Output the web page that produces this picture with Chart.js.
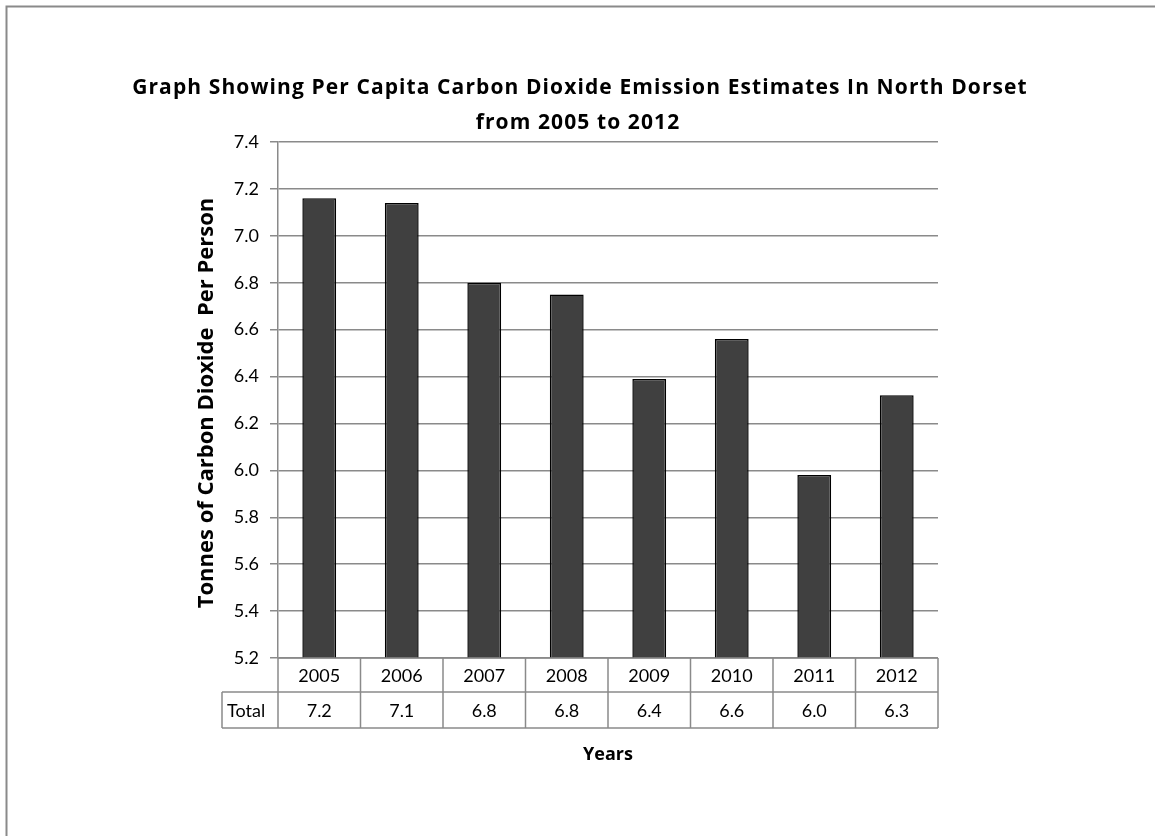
<!DOCTYPE html>
<html>
<head>
<meta charset="utf-8">
<title>Per Capita CO2 Emission Estimates - North Dorset</title>
<script src="https://cdn.jsdelivr.net/npm/chart.js@4.4.1/dist/chart.umd.min.js"></script>
<style>
  html, body { margin: 0; padding: 0; background: #ffffff; }
  canvas { display: block; }
</style>
</head>
<body>
<canvas id="chart" width="1155" height="836"></canvas>
<script>
// Per capita CO2 emission estimates (tonnes per person), North Dorset
const years = ['2005', '2006', '2007', '2008', '2009', '2010', '2011', '2012'];
const emissions = [7.16, 7.14, 6.80, 6.75, 6.39, 6.56, 5.98, 6.32];
const tableRowLabel = 'Total';
const titleLines = [
  'Graph Showing Per Capita Carbon Dioxide Emission Estimates In North Dorset',
  'from 2005 to 2012'
];
const yAxisTitle = 'Tonnes of Carbon Dioxide  Per Person';
const xAxisTitle = 'Years';
const yMin = 5.2, yMax = 7.4, yStep = 0.2;

const FONT = 'Lato, "Open Sans", sans-serif';
const BOLD_FONT = '"Open Sans", Lato, sans-serif';
const LINE_GREY = '#8a8a8a';

// Frame, titles and the data table under the bars
const decorations = {
  id: 'decorations',
  afterDraw(chart) {
    const ctx = chart.ctx;
    const area = chart.chartArea;
    const xs = chart.scales.x;
    ctx.save();

    // outer frame
    ctx.strokeStyle = LINE_GREY;
    ctx.lineWidth = 2;
    ctx.beginPath();
    ctx.moveTo(6.5, chart.height + 2);
    ctx.lineTo(6.5, 6.5);
    ctx.lineTo(chart.width + 2, 6.5);
    ctx.stroke();

    // chart title
    ctx.fillStyle = '#000';
    ctx.textAlign = 'center';
    ctx.textBaseline = 'middle';
    ctx.font = 'bold 21px ' + BOLD_FONT;
    ctx.letterSpacing = '1.1px';
    ctx.fillText(titleLines[0], 580, 88);
    ctx.fillText(titleLines[1], 578, 123);
    ctx.letterSpacing = '0px';

    // y axis title
    ctx.save();
    ctx.translate(207, (area.top + area.bottom) / 2 + 3);
    ctx.rotate(-Math.PI / 2);
    ctx.font = 'bold 22px ' + BOLD_FONT;
    ctx.fillText(yAxisTitle, 0, 0);
    ctx.restore();

    // data table
    const colW = xs.getPixelForValue(1) - xs.getPixelForValue(0);
    const left = xs.getPixelForValue(0) - colW / 2;
    const right = left + colW * years.length;
    const rowTop = area.bottom;
    const rowMid = rowTop + 34;
    const rowBot = rowMid + 36;
    const labelLeft = 222;

    ctx.strokeStyle = LINE_GREY;
    ctx.lineWidth = 1.5;
    ctx.beginPath();
    ctx.moveTo(left, rowTop); ctx.lineTo(right, rowTop);
    ctx.moveTo(labelLeft, rowMid); ctx.lineTo(right, rowMid);
    ctx.moveTo(labelLeft, rowBot); ctx.lineTo(right, rowBot);
    ctx.moveTo(labelLeft, rowMid); ctx.lineTo(labelLeft, rowBot);
    for (let i = 0; i <= years.length; i++) {
      const x = left + i * colW;
      ctx.moveTo(x, rowTop); ctx.lineTo(x, rowBot);
    }
    ctx.stroke();

    ctx.font = '18px ' + FONT;
    ctx.fillStyle = '#000';
    ctx.textAlign = 'center';
    years.forEach((yr, i) => {
      const cx = xs.getPixelForValue(i);
      ctx.fillText(yr, cx, (rowTop + rowMid) / 2 + 1);
      ctx.fillText(emissions[i].toFixed(1), cx, (rowMid + rowBot) / 2 + 1);
    });
    ctx.textAlign = 'left';
    ctx.fillText(tableRowLabel, labelLeft + 5, (rowMid + rowBot) / 2 + 1);

    // x axis title
    ctx.font = 'bold 18px ' + BOLD_FONT;
    ctx.textAlign = 'center';
    ctx.fillText(xAxisTitle, (area.left + area.right) / 2, 755);

    ctx.restore();
  }
};

new Chart(document.getElementById('chart'), {
  type: 'bar',
  data: {
    labels: years,
    datasets: [{
      label: tableRowLabel,
      data: emissions,
      backgroundColor: '#404040',
      borderColor: '#000000',
      borderWidth: 1.5,
      barPercentage: 0.41,
      categoryPercentage: 1.0
    }]
  },
  options: {
    responsive: false,
    devicePixelRatio: 1,
    animation: false,
    layout: { padding: { left: 198, right: 217, top: 142, bottom: 178 } },
    plugins: {
      legend: { display: false },
      title: { display: false },
      tooltip: { enabled: false }
    },
    scales: {
      x: { display: false },
      y: {
        min: yMin,
        max: yMax,
        afterFit(scale) { scale.width = 80; },
        ticks: {
          stepSize: yStep,
          padding: 11,
          color: '#000',
          font: { family: FONT, size: 18 },
          callback: (v) => Number(v).toFixed(1)
        },
        grid: {
          color: LINE_GREY,
          lineWidth: 1.5,
          tickLength: 8,
          tickColor: LINE_GREY
        },
        border: { color: LINE_GREY, width: 1.5 }
      }
    }
  },
  plugins: [decorations]
});
</script>
</body>
</html>
